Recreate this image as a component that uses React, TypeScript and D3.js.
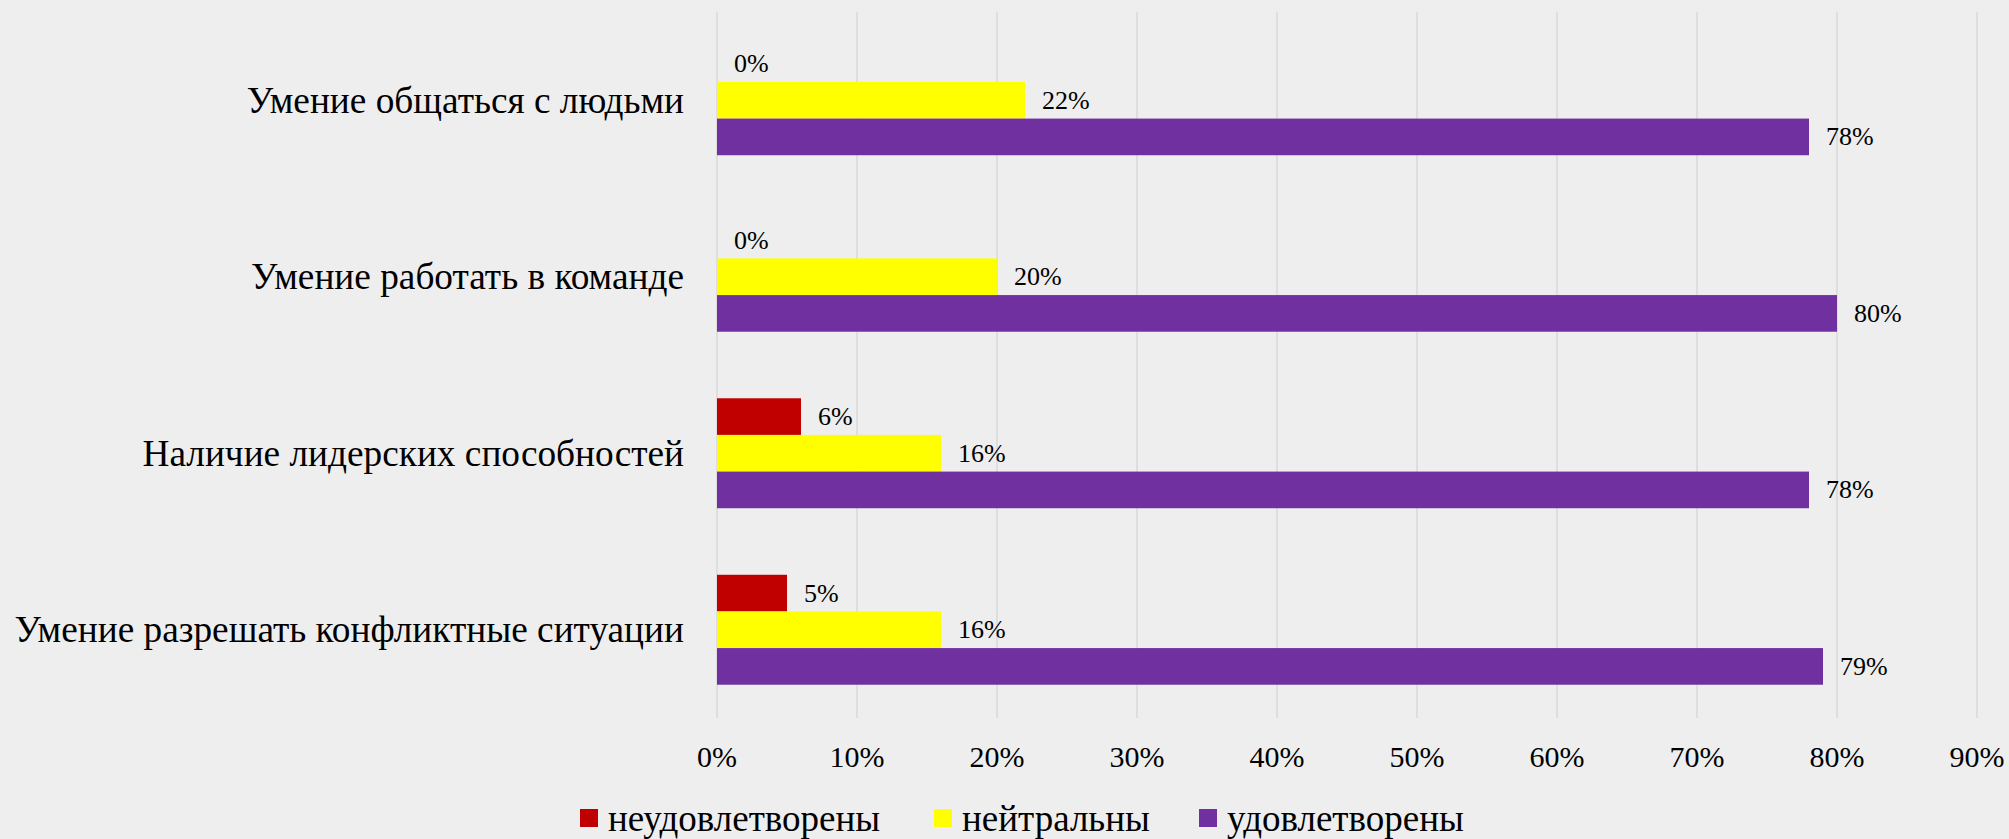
import React from "react";
import * as d3 from "d3";

const categories = [
  "Умение общаться с людьми",
  "Умение работать в команде",
  "Наличие лидерских способностей",
  "Умение разрешать конфликтные ситуации",
];
const seriesNames = ["неудовлетворены", "нейтральны", "удовлетворены"];
const unsatisfied = [0, 0, 6, 5];
const neutral = [22, 20, 16, 16];
const satisfied = [78, 80, 78, 79];
const xTicks = [0, 10, 20, 30, 40, 50, 60, 70, 80, 90];
const colors = ["#C00000", "#FFFF00", "#7030A0"];

const W = 2009;
const H = 839;
const FONT = "'Liberation Serif', 'Times New Roman', serif";

const App = () => {
  const series = [unsatisfied, neutral, satisfied];

  const x = d3.scaleLinear().domain([0, 90]).range([717, 1977]);
  const y = d3.scaleBand().domain(categories).range([12, 718]).paddingInner(0.377).paddingOuter(0.1885);
  const inner = d3.scaleBand().domain(seriesNames).range([0, y.bandwidth()]);

  // legend layout
  const legendX = [580, 934, 1199];

  return (
    <svg width={W} height={H} style={{ position: "absolute", left: 0, top: 0, display: "block" }}>
      <rect x={0} y={0} width={W} height={H} fill="#EEEEEE" />
      {xTicks.map((t) => (
        <line key={"g" + t} x1={x(t)} x2={x(t)} y1={12} y2={718} stroke="#D9D9D9" strokeWidth={1.5} />
      ))}
      {xTicks.map((t) => (
        <text key={"t" + t} x={x(t)} y={756} textAnchor="middle" dominantBaseline="central"
          fontFamily={FONT} fontSize={30} fill="#000">
          {t + "%"}
        </text>
      ))}
      {categories.map((c, i) => (
        <g key={c}>
          <text x={684} y={(y(c) as number) + y.bandwidth() / 2} textAnchor="end" dominantBaseline="central"
            fontFamily={FONT} fontSize={37.3} fill="#000">
            {c}
          </text>
          {series.map((s, j) => {
            const by = (y(c) as number) + (inner(seriesNames[j]) as number);
            return (
              <g key={j}>
                <rect x={x(0)} y={by} width={x(s[i]) - x(0)} height={inner.bandwidth()} fill={colors[j]} />
                <text x={x(s[i]) + 17} y={by + inner.bandwidth() / 2} dominantBaseline="central"
                  fontFamily={FONT} fontSize={26} fill="#000">
                  {s[i] + "%"}
                </text>
              </g>
            );
          })}
        </g>
      ))}
      {seriesNames.map((n, j) => (
        <g key={n}>
          <rect x={legendX[j]} y={809} width={18} height={18} fill={colors[j]} />
          <text x={legendX[j] + 28} y={818} dominantBaseline="central" fontFamily={FONT} fontSize={37} fill="#000">
            {n}
          </text>
        </g>
      ))}
    </svg>
  );
};

export default App;
